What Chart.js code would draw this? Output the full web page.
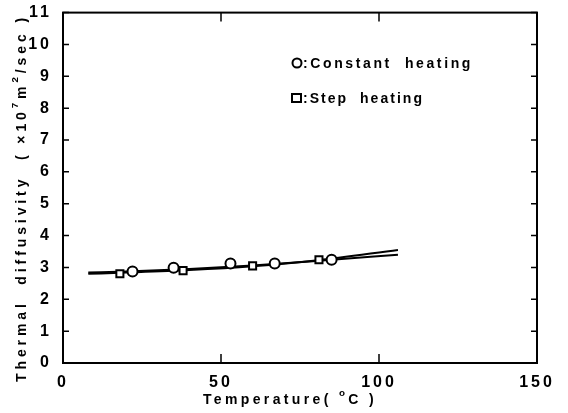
<!DOCTYPE html>
<html>
<head>
<meta charset="utf-8">
<script src="https://cdn.jsdelivr.net/npm/chart.js@4.4.1/dist/chart.umd.min.js"></script>
<style>
  html, body { margin: 0; padding: 0; background: #fff; }
  #wrap { width: 568px; height: 413px; position: relative; }
</style>
</head>
<body>
<div id="wrap"><canvas id="chart" width="568" height="413"></canvas></div>
<script>
// measured points
const constTemp = [22, 35, 53, 67, 85];
const constDiff = [2.87, 2.99, 3.12, 3.12, 3.24];
const stepTemp = [18, 38, 60, 81];
const stepDiff = [2.80, 2.90, 3.05, 3.24];

// fitted curves
const fitTemp = [8, 20, 40, 60, 80, 106];
const fitUpper = [2.80, 2.84, 2.92, 3.04, 3.22, 3.55];
const fitLower = [2.84, 2.87, 2.95, 3.06, 3.20, 3.40];

const xTicks = [0, 50, 100, 150];
const yTicks = [0, 1, 2, 3, 4, 5, 6, 7, 8, 9, 10, 11];

const FONT = "Liberation Sans, Arial, sans-serif";

function pts(xs, ys) {
  return xs.map((x, i) => ({ x: x, y: ys[i] }));
}

// draws a row of text pieces, some raised as superscripts
function drawRuns(ctx, runs, x, y, size, spacing) {
  ctx.letterSpacing = spacing + "px";
  runs.forEach((r) => {
    const s = r.sup ? size * 0.7 : size;
    ctx.font = "bold " + s + "px " + FONT;
    ctx.fillText(r.t, x, r.sup ? y - size * 0.45 : y);
    x += ctx.measureText(r.t).width;
  });
}

function runsWidth(ctx, runs, size, spacing) {
  let w = 0;
  ctx.letterSpacing = spacing + "px";
  runs.forEach((r) => {
    ctx.font = "bold " + (r.sup ? size * 0.7 : size) + "px " + FONT;
    w += ctx.measureText(r.t).width;
  });
  return w;
}

// spacing needed so the runs fill a given length
function fitSpacing(ctx, runs, size, target) {
  const n = runs.reduce((c, r) => c + r.t.length, 0);
  return (target - runsWidth(ctx, runs, size, 0)) / n;
}

const framePlugin = {
  id: "frame",
  beforeDraw(chart) {
    chart.ctx.letterSpacing = "3px";
  },
  afterDraw(chart) {
    const ctx = chart.ctx;
    const a = chart.chartArea;
    const xs = chart.scales.x;
    const ys = chart.scales.y;
    ctx.save();
    ctx.strokeStyle = "#000";
    ctx.lineWidth = 2;
    ctx.strokeRect(a.left, a.top, a.right - a.left, a.bottom - a.top);

    // inward tick marks on all four sides
    ctx.lineWidth = 1.5;
    ctx.beginPath();
    yTicks.forEach((v) => {
      const py = ys.getPixelForValue(v);
      ctx.moveTo(a.left, py); ctx.lineTo(a.left + 6, py);
      ctx.moveTo(a.right, py); ctx.lineTo(a.right - 6, py);
    });
    xTicks.forEach((v) => {
      const px = xs.getPixelForValue(v);
      ctx.moveTo(px, a.bottom); ctx.lineTo(px, a.bottom - 9);
      ctx.moveTo(px, a.top); ctx.lineTo(px, a.top + 9);
    });
    ctx.stroke();

    ctx.fillStyle = "#000";
    ctx.textBaseline = "middle";
    ctx.textAlign = "left";

    // x axis title
    const xRuns = [{ t: "Temperature( " }, { t: "o", sup: true }, { t: "C )" }];
    const xsp = fitSpacing(ctx, xRuns, 14, 174);
    drawRuns(ctx, xRuns, 203, 400, 14, xsp);

    // y axis title, rotated
    const yRuns = [
      { t: "Thermal  diffusivity  ( \u00d710" }, { t: "7", sup: true },
      { t: "m" }, { t: "2", sup: true }, { t: "/sec )" }
    ];
    ctx.save();
    ctx.translate(22, 382);
    ctx.rotate(-Math.PI / 2);
    const ysp = fitSpacing(ctx, yRuns, 14, 368);
    drawRuns(ctx, yRuns, 0, 0, 14, ysp);
    ctx.restore();

    // legend
    ctx.lineWidth = 2;
    ctx.fillStyle = "#fff";
    ctx.beginPath();
    ctx.arc(297, 63, 4.5, 0, Math.PI * 2);
    ctx.fill(); ctx.stroke();
    ctx.fillRect(292, 94, 9, 8);
    ctx.strokeRect(292, 94, 9, 8);
    ctx.fillStyle = "#000";
    const l1 = [{ t: ":Constant  heating" }];
    const l2 = [{ t: ":Step  heating" }];
    drawRuns(ctx, l1, 303, 64, 14, fitSpacing(ctx, l1, 14, 170));
    drawRuns(ctx, l2, 303, 99, 14, fitSpacing(ctx, l2, 14, 121));
    ctx.restore();
    ctx.letterSpacing = "0px";
  }
};

new Chart(document.getElementById("chart"), {
  type: "scatter",
  data: {
    datasets: [
      {
        label: "Constant heating",
        data: pts(constTemp, constDiff),
        pointStyle: "circle",
        pointRadius: 5,
        pointBackgroundColor: "#fff",
        pointBorderColor: "#000",
        pointBorderWidth: 2,
        order: 0
      },
      {
        label: "Step heating",
        data: pts(stepTemp, stepDiff),
        pointStyle: "rect",
        pointRadius: 5,
        pointBackgroundColor: "#fff",
        pointBorderColor: "#000",
        pointBorderWidth: 2,
        order: 0
      },
      {
        type: "line",
        label: "fit 1",
        data: pts(fitTemp, fitUpper),
        borderColor: "#000",
        borderWidth: 2,
        pointRadius: 0,
        cubicInterpolationMode: "monotone",
        order: 1
      },
      {
        type: "line",
        label: "fit 2",
        data: pts(fitTemp, fitLower),
        borderColor: "#000",
        borderWidth: 2,
        pointRadius: 0,
        cubicInterpolationMode: "monotone",
        order: 1
      }
    ]
  },
  options: {
    responsive: false,
    animation: false,
    layout: { padding: { top: 10, right: 31, left: 0, bottom: 0 } },
    plugins: { legend: { display: false }, tooltip: { enabled: false } },
    scales: {
      x: {
        type: "linear",
        min: 0,
        max: 150,
        grid: { display: false },
        border: { display: false },
        afterBuildTicks: (s) => { s.ticks = xTicks.map((v) => ({ value: v })); },
        afterFit: (s) => { s.height = 50; },
        ticks: {
          color: "#000",
          padding: 2,
          maxRotation: 0,
          font: { family: FONT, size: 16, weight: "bold" }
        }
      },
      y: {
        min: 0,
        max: 11,
        grid: { display: false },
        border: { display: false },
        afterBuildTicks: (s) => { s.ticks = yTicks.map((v) => ({ value: v })); },
        afterFit: (s) => { s.width = 63; },
        ticks: {
          color: "#000",
          padding: 3,
          font: { family: FONT, size: 16, weight: "bold" }
        }
      }
    }
  },
  plugins: [framePlugin]
});
</script>
</body>
</html>
